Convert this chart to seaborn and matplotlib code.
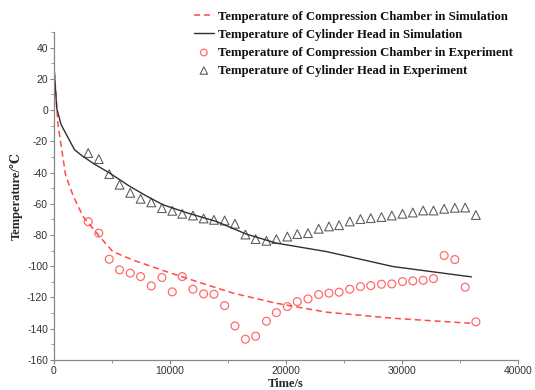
import matplotlib
matplotlib.use("Agg")
import matplotlib.pyplot as plt
import seaborn as sns
from matplotlib.ticker import MultipleLocator

# Simulation curves
sim_chamber_t = [0, 230, 370, 660, 1050, 1720, 2530, 3970, 5110, 6840, 9710, 12590, 15460, 19200, 23510, 29250, 35900]
sim_chamber_T = [31, 9, -8, -23, -42, -55.3, -68, -81, -90.6, -96, -103.4, -110.4, -117.2, -123.7, -129.4, -133.3, -136.5]

sim_head_t = [0, 280, 660, 1810, 2500, 3500, 4830, 6500, 8000, 9420, 11500, 14020, 16610, 19200, 23510, 29250, 36000]
sim_head_T = [33, 1, -9.4, -25.4, -29.5, -34.5, -40.3, -48.5, -55, -60.6, -65.8, -71.3, -79.4, -85.2, -90.6, -100.2, -106.8]

# Experimental points
exp_t = [2990, 3900, 4800, 5690, 6610, 7500, 8420, 9340, 10230, 11090, 12010, 12930, 13820, 14740,
         15630, 16530, 17410, 18340, 19200, 20140, 21000, 21920, 22840, 23730, 24600, 25520, 26440,
         27330, 28250, 29140, 30060, 30950, 31840, 32730, 33650, 34570, 35460, 36380]
exp_chamber_T = [-71.5, -78.8, -95.5, -102.3, -104.4, -106.6, -112.6, -107.2, -116.4, -106.6, -114.7, -117.7,
                 -117.9, -125.2, -138.2, -146.7, -144.8, -135.2, -129.7, -125.8, -122.6, -120.9, -118.1, -117.2,
                 -116.6, -114.7, -113, -112.4, -111.5, -111.3, -109.8, -109.4, -109, -107.9, -93.1, -95.7,
                 -113.4, -135.6]
exp_head_T = [-27.5, -31.4, -41, -47.8, -53, -56.8, -59.1, -62.8, -64.5, -66.4, -67.5, -69.4, -70.3, -70.7,
              -72.8, -79.7, -82.6, -83.7, -82.6, -81, -79.4, -78.8, -76, -74.5, -73.7, -71.3, -69.8, -69.2,
              -68.5, -67.5, -66.4, -65.6, -64.3, -64.3, -63.2, -62.6, -62.4, -67.2]

labels = ["Temperature of Compression Chamber in Simulation",
          "Temperature of Cylinder Head in Simulation",
          "Temperature of Compression Chamber in Experiment",
          "Temperature of Cylinder Head in Experiment"]

sns.set_style("ticks")
plt.rcParams['font.family'] = ['Liberation Sans', 'DejaVu Sans']
plt.rcParams['axes.unicode_minus'] = False

fig = plt.figure(figsize=(5.35, 3.9), dpi=100)
ax = fig.add_axes([0.1, 0.077, 0.868, 0.841])

red_line = "#ff4a4a"
red_pt = "#ff6b6b"
dark = "#303030"
gray_pt = "#606060"

sns.lineplot(x=sim_chamber_t, y=sim_chamber_T, ax=ax, color=red_line, linestyle=(0, (4, 2.5)),
             linewidth=1.1, label=labels[0])
sns.lineplot(x=sim_head_t, y=sim_head_T, ax=ax, color=dark, linewidth=1.0, label=labels[1])
sns.scatterplot(x=exp_t, y=exp_chamber_T, ax=ax, marker='o', s=32, facecolors='none',
                edgecolors=red_pt, linewidths=0.9, label=labels[2])
sns.scatterplot(x=exp_t, y=exp_head_T, ax=ax, marker='^', s=40, facecolors='none',
                edgecolors=gray_pt, linewidths=0.8, label=labels[3])

ax.set_xlim(0, 40000)
ax.set_ylim(-160, 50)
ax.xaxis.set_major_locator(MultipleLocator(10000))
ax.xaxis.set_minor_locator(MultipleLocator(5000))
ax.yaxis.set_minor_locator(MultipleLocator(10))
ax.set_yticks(range(-160, 41, 20))
ax.tick_params(which='major', length=3, width=0.8, color='#888888', labelsize=7.5, pad=1, labelcolor='#333333')
ax.tick_params(which='minor', length=2, width=0.6, color='#888888')
for s in ['top', 'right']:
    ax.spines[s].set_visible(False)
for s in ['left', 'bottom']:
    ax.spines[s].set_color('#888888')
    ax.spines[s].set_linewidth(0.9)

ax.set_xlabel("Time/s", family=['Liberation Serif', 'DejaVu Serif'], fontweight='bold', fontsize=9, labelpad=2)
ax.set_ylabel("Temperature/℃", family=['Liberation Serif', 'DejaVu Serif'], fontweight='bold', fontsize=9, labelpad=3)

leg = ax.legend(loc='upper right', bbox_to_anchor=(1.0, 1.08), frameon=False,
                prop={'family': 'Liberation Serif', 'weight': 'bold', 'size': 9.2},
                handlelength=1.6, handletextpad=0.3, labelspacing=0.47, borderaxespad=0,
                markerscale=0.85)
for t in leg.get_texts():
    t.set_color('#111111')

fig.savefig("out.png", dpi=100)
